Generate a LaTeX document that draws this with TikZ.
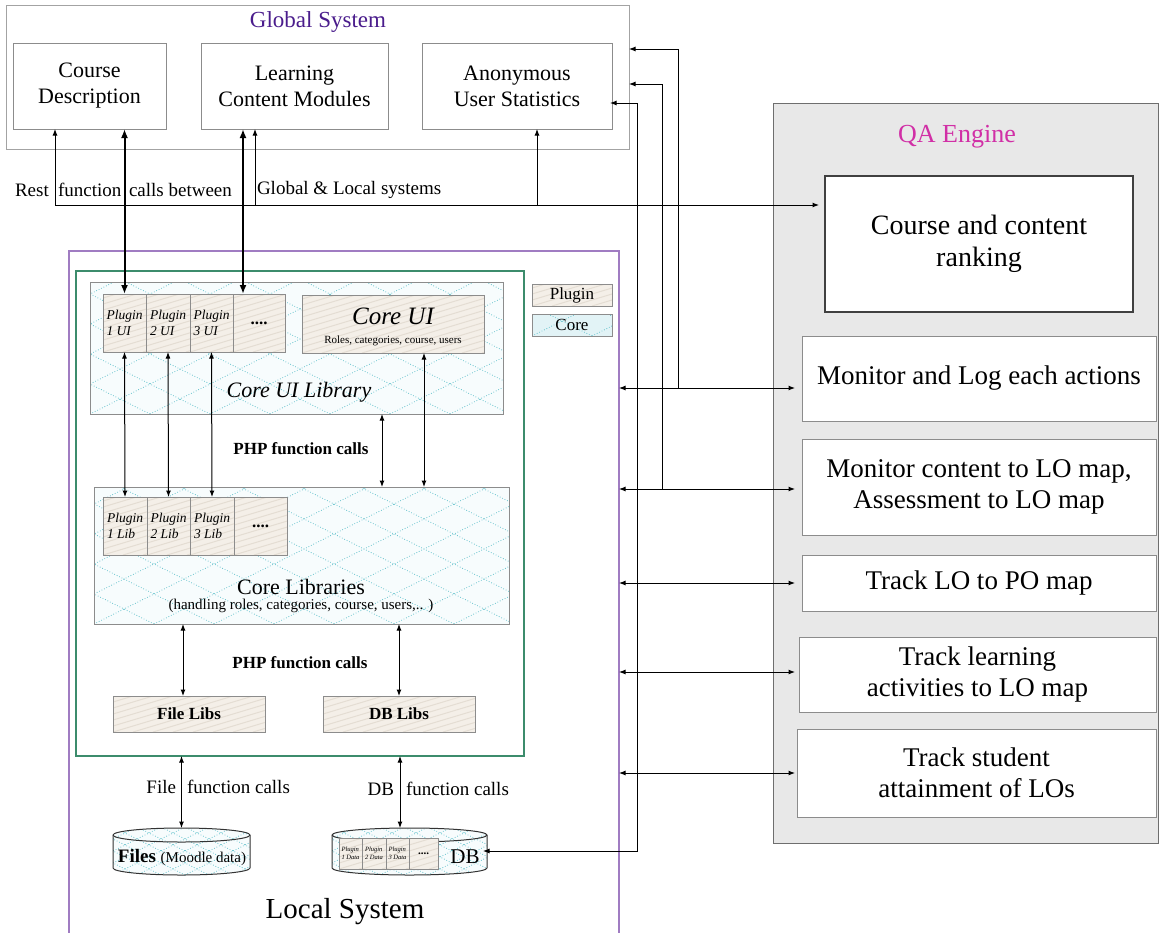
\documentclass[tikz,border=0pt]{standalone}
\usepackage{fontspec}
\setmainfont{Liberation Serif}
\usetikzlibrary{arrows.meta,calc}

\definecolor{gsys}{HTML}{4A1C8C}
\definecolor{qatxt}{HTML}{D12FA6}
\definecolor{lsys}{HTML}{A07CC2}
\definecolor{grn}{HTML}{3C8C6C}
\definecolor{qabg}{HTML}{E8E8E8}
\definecolor{qaln}{HTML}{6E6E6E}
\definecolor{gborder}{HTML}{A3A3A3}
\definecolor{boxln}{HTML}{8C8C8C}
\definecolor{plugbg}{HTML}{F4EFE8}
\definecolor{plugln}{HTML}{E4DDD3}
\definecolor{corebg}{HTML}{F7FCFD}
\definecolor{corelg}{HTML}{E2F3F6}
\definecolor{coreln}{HTML}{55BCC7}

\newcommand\fz[2]{\fontsize{#1}{#2}\selectfont}

% light diagonal stripes filling a plugin-type area
\newcommand\stripes{%
  \foreach \i in {-12,...,24}{%
    \draw[plugln, line width=1pt]
      ($(path picture bounding box.south west)+(\i*20pt,0pt)$) -- ++(700pt,210pt);}}
% dotted diamond lattice filling a core-type area, horizontal period #1
\newcommand\diamonds[1]{%
  \foreach \i in {-7,...,9}{%
    \draw[coreln, dotted, line width=0.7pt]
      ($(path picture bounding box.south west)+(\i*#1,0pt)$) -- ++(20*#1,10*#1);}%
  \foreach \i in {0,...,16}{%
    \draw[coreln, dotted, line width=0.7pt]
      ($(path picture bounding box.south west)+(\i*#1,0pt)$) -- ++(-20*#1,10*#1);}}

% rectangle node given by its corners: [style]{name}{x1}{y1}{x2}{y2}{text}
\newcommand\bx[7][]{%
  \pgfmathsetmacro\bxcx{(#3+#5)/2}%
  \pgfmathsetmacro\bxcy{(#4+#6)/2}%
  \pgfmathsetlengthmacro\bxw{#5-#3}%
  \pgfmathsetlengthmacro\bxh{#6-#4}%
  \node[box, minimum width=\bxw, minimum height=\bxh, #1] (#2) at (\bxcx,\bxcy) {#7};}

% storage cylinder: {name}{x1}{x2}{ytop}{ybottom}{ry}
\newcommand\cyl[6]{%
  \pgfmathsetmacro\cycx{(#2+#3)/2}%
  \pgfmathsetmacro\cycy{(#4+#5)/2}%
  \pgfmathsetlengthmacro\cyrx{(#3-#2)/2}%
  \pgfmathsetlengthmacro\cyw{#3-#2}%
  \pgfmathsetlengthmacro\cyh{#5-#4+2*#6}%
  \path[cylbody] (#2,#4) -- (#2,#5)
    arc[start angle=180,end angle=360,x radius=\cyrx,y radius=#6pt]
    -- (#3,#4) arc[start angle=0,end angle=180,x radius=\cyrx,y radius=#6pt] -- cycle;
  \draw[line width=1pt, black!80] (#2,#4)
    arc[start angle=180,end angle=360,x radius=\cyrx,y radius=#6pt];
  \node[inner sep=0pt, outer sep=0pt, minimum width=\cyw, minimum height=\cyh] (#1) at (\cycx,\cycy) {};}

\begin{document}
\begin{tikzpicture}[x=1pt,y=-1pt,
  >={Latex[length=6.5pt,width=5pt]},
  box/.style={draw=boxln, line width=0.8pt, inner sep=0pt, outer sep=0pt, align=center, fill=white},
  plugin/.style={fill=plugbg, draw=boxln, path picture={\stripes}},
  core/.style={fill=corebg, draw=boxln, path picture={\diamonds{60pt}}},
  cylbody/.style={fill=corebg, draw=black!80, line width=1pt, path picture={\diamonds{24pt}}},
  qabox/.style={draw=boxln, line width=1pt, fill=white, font=\fz{27}{31}},
  cell/.style={plugin, align=left, font=\fz{13.5}{16}\itshape},
  lbl/.style={inner sep=1pt, outer sep=0pt},
  con/.style={line width=1pt},
  thk/.style={line width=2pt, {Latex[length=9pt,width=7pt]}-{Latex[length=9pt,width=7pt]}},
]
\useasboundingbox (0,0) rectangle (1159,932);
\clip (0,0) rectangle (1159,932);

% ---------------- QA engine ----------------
\bx[fill=qabg, draw=qaln, line width=1pt]{qa}{773}{103}{1158}{843}{}
\node[text=qatxt, font=\fz{26}{30}] (qatitle) at (957,137) {QA Engine};
\bx[qabox, draw=black!75, line width=1.4pt, font=\fz{28}{32}]{rank}{825}{176}{1133}{312}{Course and content\\ranking}
\bx[qabox]{mon}{802}{336}{1156}{421}{Monitor and Log each actions}
\bx[qabox]{mcont}{802}{439}{1156}{535}{Monitor content to LO map,\\Assessment to LO map}
\bx[qabox]{lopo}{802}{555}{1156}{611}{Track LO to PO map}
\bx[qabox]{lact}{799}{637}{1156}{712}{Track learning\\activities to LO map}
\bx[qabox]{latt}{797}{729}{1156}{817}{Track student\\attainment of LOs}

% ---------------- Local system ----------------
\bx[draw=lsys, line width=1.1pt]{local}{69}{251}{619}{960}{}
\node[font=\fz{29}{32}] (loctitle) at (345,912) {Local System};
\bx[draw=grn, line width=1.2pt]{green}{76}{271}{524}{756}{}

% core UI library with plugin UIs and core UI
\bx[core]{coreui}{90}{282}{503}{414}{}
\node[font=\fz{22}{26}\itshape] (coreuit) at (299,392) {Core UI Library};
\bx[cell]{pui1}{103}{294}{146}{352}{Plugin\\1 UI}
\bx[cell]{pui2}{146}{294}{190}{352}{Plugin\\2 UI}
\bx[cell]{pui3}{190}{294}{233}{352}{Plugin\\3 UI}
\bx[plugin, font=\fz{17}{18}\bfseries]{pui4}{233}{294}{285}{352}{....}
\bx[plugin]{coreuibox}{302}{295}{484}{353}{}
\node[font=\fz{25}{28}\itshape] (coreuiname) at (393,316) {Core UI};
\node[font=\fz{11}{13}] (coreuisub) at (393,341) {Roles, categories, course, users};

% legend
\bx[plugin, font=\fz{17}{20}]{legplug}{532}{284}{612}{306}{Plugin}
\bx[core, fill=corelg, font=\fz{17}{20}]{legcore}{532}{314}{612}{336}{Core}

% core libraries with plugin libraries
\node[font=\fz{17}{20}\bfseries] (php1) at (301,449) {PHP function calls};
\bx[core]{corelib}{94}{487}{509}{624}{}
\bx[cell]{plib1}{103}{497}{147}{555}{Plugin\\1 Lib}
\bx[cell]{plib2}{147}{497}{190}{555}{Plugin\\2 Lib}
\bx[cell]{plib3}{190}{497}{234}{555}{Plugin\\3 Lib}
\bx[plugin, font=\fz{17}{18}\bfseries]{plib4}{234}{497}{287}{555}{....}
\node[font=\fz{22}{26}] (corelibt) at (301,587) {Core Libraries};
\node[font=\fz{15}{18}] (corelibs) at (301,606) {(handling roles, categories, course, users,.. )};

% file and database libraries
\node[font=\fz{17}{20}\bfseries] (php2) at (300,663) {PHP function calls};
\bx[plugin, font=\fz{17}{20}\bfseries]{filelibs}{113}{696}{265}{732}{File Libs}
\bx[plugin, font=\fz{17}{20}\bfseries]{dblibs}{323}{696}{475}{732}{DB Libs}

% storage
\cyl{files}{113}{250}{835}{868}{7}
\node[font=\fz{19}{21}] (filest) at (182,857) {\textbf{Files} {\fz{15}{17}(Moodle data)}};
\cyl{db}{332}{487}{835}{868}{7}
\bx[plugin, align=left, font=\fz{6.5}{8}\itshape]{pd1}{339}{838}{362}{869}{Plugin\\1 Data}
\bx[plugin, align=left, font=\fz{6.5}{8}\itshape]{pd2}{362}{838}{386}{869}{Plugin\\2 Data}
\bx[plugin, align=left, font=\fz{6.5}{8}\itshape]{pd3}{386}{838}{409}{869}{Plugin\\3 Data}
\bx[plugin, font=\fz{11}{12}\bfseries]{pd4}{409}{838}{438}{869}{....}
\node[font=\fz{21}{24}] (dbt) at (465,857) {DB};

\node[lbl, anchor=east, font=\fz{19}{22}] (ffc1) at (177,787) {File};
\node[lbl, anchor=west, font=\fz{19}{22}] (ffc2) at (186,787) {function calls};
\node[lbl, anchor=east, font=\fz{19}{22}] (dfc1) at (395,789) {DB};
\node[lbl, anchor=west, font=\fz{19}{22}] (dfc2) at (405,789) {function calls};

% ---------------- Global system ----------------
\bx[draw=gborder, line width=1pt]{global}{6}{5}{629}{149}{}
\node[text=gsys, font=\fz{23}{26}] (gtitle) at (318,22) {Global System};
\bx[font=\fz{22}{26}]{course}{13}{43}{166}{129}{Course\\Description}
\bx[font=\fz{22}{26}]{learn}{201}{43}{388}{129}{Learning\\Content Modules}
\bx[font=\fz{22}{26}]{anon}{422}{43}{612}{129}{Anonymous\\User Statistics}

\node[lbl, anchor=west, font=\fz{19}{22}] (rt1) at (14,190) {Rest};
\node[lbl, anchor=west, font=\fz{19}{22}] (rt2) at (57,190) {function};
\node[lbl, anchor=west, font=\fz{19}{22}] (rt3) at (128,190) {calls between};
\node[lbl, anchor=west, font=\fz{19}{22}] (rt4) at (256,190) {Global \& Local systems};

% ---------------- connectors ----------------
\coordinate (h0) at (55,205);
\coordinate (h1) at (255,205);
\coordinate (h2) at (537,205);
\draw[con,->,shorten >=6pt] (h0) -- (h0 -| rank.west);
\draw[con,->] (h0) -- (h0 |- course.south);
\draw[con,->] (h1) -- (h1 |- learn.south);
\draw[con,->] (h2) -- (h2 |- anon.south);

\coordinate (t2) at (243,0);
\draw[thk] (course.south -| pui1.north) -- (pui1.north);
\draw[thk] (learn.south -| t2) -- (pui4.north -| t2);

\draw[con,<->] (pui1.south) -- (plib1.north);
\draw[con,<->] (pui2.south) -- (plib2.north);
\draw[con,<->] (pui3.south) -- (plib3.north);
\coordinate (k1) at (382,0);
\coordinate (k2) at (424,0);
\coordinate (k3) at (183,0);
\coordinate (k4) at (400,0);
\draw[con,<->] (coreui.south -| k1) -- (corelib.north -| k1);
\draw[con,<->] (coreuibox.south -| k2) -- (corelib.north -| k2);
\draw[con,<->] (corelib.south -| k3) -- (filelibs.north -| k3);
\draw[con,<->] (corelib.south -| dblibs.north) -- (dblibs.north);
\draw[con,<->] (green.south -| files.north) -- (files.north);
\draw[con,<->] (green.south -| k4) -- (db.north -| k4);

\coordinate (ya) at (0,388);
\coordinate (yb) at (0,489);
\coordinate (yc) at (0,583);
\coordinate (yd) at (0,672);
\coordinate (ye) at (0,773);
\draw[con,<->,shorten >=7pt] (local.east |- ya) -- (mon.west |- ya);
\draw[con,<->,shorten >=7pt] (local.east |- yb) -- (mcont.west |- yb);
\draw[con,<->,shorten >=7pt] (local.east |- yc) -- (lopo.west |- yc);
\draw[con,<->,shorten >=4pt] (local.east |- yd) -- (lact.west |- yd);
\draw[con,<->,shorten >=2pt] (local.east |- ye) -- (latt.west |- ye);

\coordinate (va) at (678,49);
\coordinate (vb) at (662,84);
\coordinate (vc) at (637,103);
\coordinate (vd) at (637,851);
\draw[con,->] (va |- ya) -- (va) -- (va -| global.east);
\draw[con,->] (vb |- yb) -- (vb) -- (vb -| global.east);
\draw[con,<->,shorten <=-2pt,shorten >=-4pt] (vc -| anon.east) -- (vc) -- (vd) -- (vd -| db.east);
\end{tikzpicture}
\end{document}
